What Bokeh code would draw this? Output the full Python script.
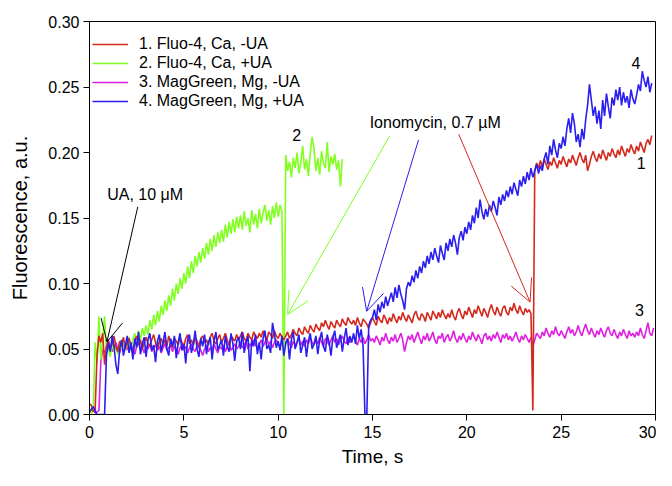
import numpy as np
from bokeh.plotting import figure
from bokeh.models import (Arrow, OpenHead, Label, Legend, LegendItem,
                          NumeralTickFormatter, FixedTicker, Range1d)
from bokeh.embed import file_html
from bokeh.resources import INLINE

# sampling interval of the traces, s
dt = 0.1

# Fluorescence values, in units of 0.001 a.u.
# 1. Fluo-4, Ca, -UA  (t = 0 .. 29.8 s)
fluo4_ca_minus_ua = [
    8, 7, 2, 4, 45, 60, 55, 62, 38, 52,
    57, 50, 54, 60, 52, 48, 56, 53, 59, 50,
    55, 58, 51, 47, 56, 60, 53, 57, 50, 55,
    59, 54, 52, 57, 61, 55, 50, 56, 58, 53,
    57, 52, 60, 55, 51, 58, 56, 53, 59, 55,
    52, 58, 61, 54, 57, 53, 59, 56, 52, 58,
    60, 55, 57, 53, 59, 62, 56, 54, 58, 61,
    55, 58, 62, 57, 53, 60, 58, 56, 61, 57,
    60, 63, 58, 56, 62, 59, 57, 63, 60, 58,
    62, 59, 64, 60, 57, 63, 61, 58, 64, 60,
    58, 62, 59, 57, 60, 63, 58, 61, 65, 62,
    60, 66, 63, 61, 67, 64, 62, 68, 65, 63,
    69, 66, 64, 70, 67, 72, 68, 65, 71, 68,
    66, 72, 69, 67, 73, 70, 68, 74, 71, 69,
    72, 68, 74, 70, 67, 73, 71, 69, 66, 70,
    74, 71, 68, 75, 72, 70, 76, 73, 69, 74,
    71, 77, 73, 70, 75, 72, 78, 74, 71, 76,
    73, 70, 76, 79, 74, 72, 77, 75, 71, 78,
    75, 72, 79, 76, 73, 78, 74, 80, 76, 73,
    77, 74, 80, 75, 72, 78, 81, 76, 73, 79,
    76, 82, 78, 74, 80, 77, 83, 79, 75, 81,
    78, 74, 80, 84, 79, 76, 82, 78, 75, 81,
    83, 78, 76, 82, 79, 85, 80, 77, 83, 79,
    76, 81, 78, 80, 77, 3, 186, 192, 188, 194,
    189, 195, 191, 187, 193, 190, 196, 192, 188, 194,
    191, 197, 193, 189, 195, 192, 198, 194, 190, 196,
    200, 195, 192, 198, 186, 191, 197, 201, 196, 193,
    199, 195, 202, 198, 194, 200, 197, 203, 199, 196,
    202, 198, 205, 201, 197, 203, 200, 206, 202, 199,
    205, 201, 208, 204, 200, 207, 210, 206, 213,
]

# 2. Fluo-4, Ca, +UA  (t = 0 .. 13.4 s)
fluo4_ca_plus_ua = [
    5, 1, 3, 55, 40, 75, 42, 58, 75, 48,
    50, 44, 55, 48, 52, 46, 54, 50, 56, 49,
    53, 59, 50, 57, 62, 54, 64, 57, 66, 60,
    68, 61, 72, 65, 76, 68, 79, 71, 83, 76,
    87, 79, 91, 83, 96, 87, 100, 92, 104, 96,
    108, 100, 113, 104, 117, 108, 121, 113, 124, 116,
    127, 119, 131, 122, 134, 125, 137, 128, 139, 131,
    141, 132, 145, 135, 147, 138, 149, 139, 151, 142,
    152, 141, 155, 144, 150, 139, 156, 145, 153, 142,
    157, 146, 154, 160, 148, 156, 145, 159, 150, 162,
    151, 160, 155, 0, 198, 186, 193, 181, 196, 188,
    200, 184, 192, 205, 187, 195, 182, 199, 212, 203,
    186, 196, 183, 201, 192, 188, 208, 185, 197, 191,
    199, 187, 194, 174, 195,
]

# 3. MagGreen, Mg, -UA  (t = 0 .. 29.9 s)
maggreen_mg_minus_ua = [
    3, 2, 4, 1, 2, 3, 40, 50, 47, 52,
    49, 53, 48, 51, 55, 50, 47, 52, 54, 49,
    51, 48, 53, 50, 46, 52, 55, 49, 51, 47,
    52, 50, 54, 48, 51, 53, 49, 52, 47, 51,
    54, 49, 51, 53, 48, 52, 50, 46, 51, 53,
    49, 52, 47, 51, 54, 50, 48, 53, 51, 49,
    45, 50, 53, 48, 51, 49, 54, 50, 47, 52,
    50, 53, 48, 52, 55, 49, 51, 54, 50, 52,
    55, 51, 53, 56, 50, 54, 52, 57, 53, 51,
    54, 57, 52, 55, 58, 53, 56, 51, 55, 57,
    54, 52, 56, 53, 55, 58, 54, 51, 56, 53,
    55, 58, 53, 56, 52, 57, 54, 59, 55, 53,
    57, 54, 59, 55, 52, 58, 56, 53, 57, 60,
    55, 58, 53, 57, 60, 56, 54, 59, 55, 57,
    60, 56, 53, 58, 55, 59, 54, 57, 61, 56,
    58, 55, 60, 57, 53, 59, 56, 62, 57, 54,
    59, 56, 61, 55, 58, 62, 57, 48, 55, 60,
    57, 61, 55, 59, 63, 58, 54, 60, 57, 62,
    56, 59, 63, 57, 54, 60, 58, 62, 55, 59,
    61, 56, 59, 64, 58, 55, 60, 57, 62, 58,
    55, 60, 57, 63, 59, 56, 61, 58, 54, 60,
    62, 57, 60, 56, 61, 58, 63, 59, 55, 61,
    58, 62, 57, 60, 56, 59, 63, 58, 55, 60,
    57, 61, 58, 55, 59, 52, 57, 62, 60, 58,
    63, 60, 66, 62, 59, 64, 61, 67, 62, 60,
    64, 61, 58, 63, 67, 62, 65, 60, 63, 68,
    63, 60, 65, 69, 64, 61, 66, 62, 59, 64,
    61, 66, 62, 59, 64, 67, 62, 60, 65, 61,
    58, 63, 60, 65, 61, 58, 64, 60, 62, 59,
    63, 60, 66, 61, 58, 64, 70, 62, 60, 66,
]

# 4. MagGreen, Mg, +UA  (t = 0 .. 29.8 s)
maggreen_mg_plus_ua = [
    2, 4, 6, 3, 0, 0, 0, 0, 0, 45,
    55, 48, 60, 52, 38, 31, 50, 57, 45, 53,
    60, 47, 55, 42, 58, 51, 63, 46, 54, 59,
    44, 57, 62, 49, 53, 40, 56, 61, 48, 55,
    63, 50, 45, 58, 52, 60, 43, 55, 62, 49,
    54, 39, 57, 61, 47, 53, 64, 50, 44, 58,
    52, 61, 46, 55, 59, 42, 56, 63, 49, 53,
    57, 45, 60, 52, 48, 62, 54, 41, 56, 59,
    50, 63, 47, 55, 60, 33, 57, 52, 61, 46,
    55, 42, 58, 64, 50, 53, 47, 70, 62, 51,
    56, 49, 60, 45, 54, 58, 42, 57, 63, 50,
    55, 61, 47, 53, 59, 44, 56, 62, 50, 54,
    60, 46, 57, 63, 52, 48, 61, 55, 45, 59,
    64, 51, 56, 61, 48, 58, 66, 53, 60, 55,
    62, 54, 68, 58, 65, 52, 0, 0, 68, 72,
    74, 80, 72, 84, 78, 86, 81, 90, 83, 88,
    93, 86, 97, 89, 99, 92, 87, 80, 96, 101,
    98, 106, 101, 110, 104, 113, 108, 117, 112, 121,
    115, 124, 118, 127, 121, 116, 129, 123, 118, 131,
    125, 134, 128, 137, 131, 122, 135, 140, 133, 143,
    138, 147, 141, 152, 146, 158, 150, 164, 155, 149,
    157, 151, 160, 155, 163, 158, 152, 166, 160, 168,
    163, 171, 166, 174, 168, 177, 172, 167, 179, 174,
    182, 176, 185, 179, 188, 181, 186, 191, 184, 190,
    186, 195, 200, 191, 205, 198, 210, 202, 196, 207,
    203, 212, 205, 218, 226, 215, 230, 222, 208, 214,
    204, 218, 210, 225, 236, 252, 240, 228, 235, 222,
    232, 218, 240, 228, 245, 235, 226, 242, 236, 248,
    240, 250, 236, 246, 238, 243, 234, 248, 241, 237,
    244, 252, 247, 262, 255, 250, 258, 246, 253,
]

series_labels = ["1. Fluo-4, Ca, -UA", "2. Fluo-4, Ca, +UA",
                 "3. MagGreen, Mg, -UA", "4. MagGreen, Mg, +UA"]
series_colors = ["#d42a1e", "#80ff20", "#e020e0", "#2a1ef0"]

x_ticks = [0, 5, 10, 15, 20, 25, 30]
y_ticks = [0.0, 0.05, 0.10, 0.15, 0.20, 0.25, 0.30]

FONT = "Liberation Sans"

p = figure(width=656, height=470, output_backend="svg", toolbar_location=None,
           x_range=Range1d(0, 30), y_range=Range1d(0, 0.30),
           min_border_left=89, min_border_right=1, min_border_top=21,
           min_border_bottom=56)
p.xgrid.visible = False
p.ygrid.visible = False
p.outline_line_color = "black"
p.outline_line_width = 1
p.outline_line_alpha = 1
p.background_fill_color = "white"
p.border_fill_color = "white"

for ax in (p.xaxis[0], p.yaxis[0]):
    ax.axis_line_color = "black"
    ax.axis_line_width = 1
    ax.major_tick_line_color = "black"
    ax.major_tick_out = 6
    ax.major_tick_in = 0
    ax.minor_tick_line_color = None
    ax.major_label_text_font = FONT
    ax.major_label_text_font_size = "16px"
    ax.major_label_text_color = "black"
    ax.axis_label_text_font = FONT
    ax.axis_label_text_font_style = "normal"
    ax.axis_label_text_color = "black"

p.xaxis.ticker = FixedTicker(ticks=x_ticks)
p.yaxis.ticker = FixedTicker(ticks=y_ticks)
p.yaxis.formatter = NumeralTickFormatter(format="0.00")
p.xaxis.axis_label = "Time, s"
p.yaxis.axis_label = "Fluorescence, a.u."
p.xaxis.axis_label_text_font_size = "19px"
p.yaxis.axis_label_text_font_size = "20px"
p.xaxis.major_label_standoff = 5
p.yaxis.major_label_standoff = 4
p.xaxis.axis_label_standoff = 5
p.yaxis.axis_label_standoff = 14


def times(vals):
    return np.arange(len(vals)) * dt


def fluor(vals):
    return np.array(vals) / 1000.0


all_series = [fluo4_ca_minus_ua, fluo4_ca_plus_ua,
              maggreen_mg_minus_ua, maggreen_mg_plus_ua]
renderers = [None] * 4
for idx in [2, 1, 0, 3]:
    vals = all_series[idx]
    renderers[idx] = p.line(times(vals), fluor(vals),
                            line_color=series_colors[idx], line_width=1.6)

legend = Legend(items=[LegendItem(label=series_labels[i], renderers=[renderers[i]])
                       for i in range(4)],
                location=(3, 304))
legend.glyph_width = 36
legend.glyph_height = 14
legend.label_standoff = 11
legend.spacing = 1
legend.padding = 5
legend.margin = 0
legend.label_text_font = FONT
legend.label_text_font_size = "16px"
legend.label_text_color = "black"
legend.border_line_color = None
legend.background_fill_alpha = 0
p.add_layout(legend)

# annotation arrows (data units)
arrows = [
    ((2.56, 0.1586), (0.925, 0.0554), "black"),
    ((15.9, 0.2125), (10.5, 0.0763), series_colors[1]),
    ((17.44, 0.2097), (14.69, 0.0788), series_colors[3]),
    ((19.57, 0.214), (23.35, 0.0858), series_colors[0]),
]
for (xs, ys), (xe, ye), col in arrows:
    p.add_layout(Arrow(x_start=xs, y_start=ys, x_end=xe, y_end=ye,
                       line_color=col, line_width=1,
                       end=OpenHead(size=22, line_color=col, line_width=1)))

texts = [
    ("UA, 10 \u03bcM", 0.94, 0.1676, "left"),
    ("Ionomycin, 0.7 \u00b5M", 14.85, 0.223, "left"),
    ("2", 10.98, 0.2134, "center"),
    ("4", 28.96, 0.2686, "center"),
    ("1", 29.24, 0.1923, "center"),
    ("3", 29.15, 0.080, "center"),
]
for txt, x, y, align in texts:
    p.add_layout(Label(x=x, y=y, text=txt, text_font=FONT, text_font_size="16px",
                       text_color="black", text_align=align, text_baseline="middle"))

open("out.html", "w").write(file_html(p, INLINE))
